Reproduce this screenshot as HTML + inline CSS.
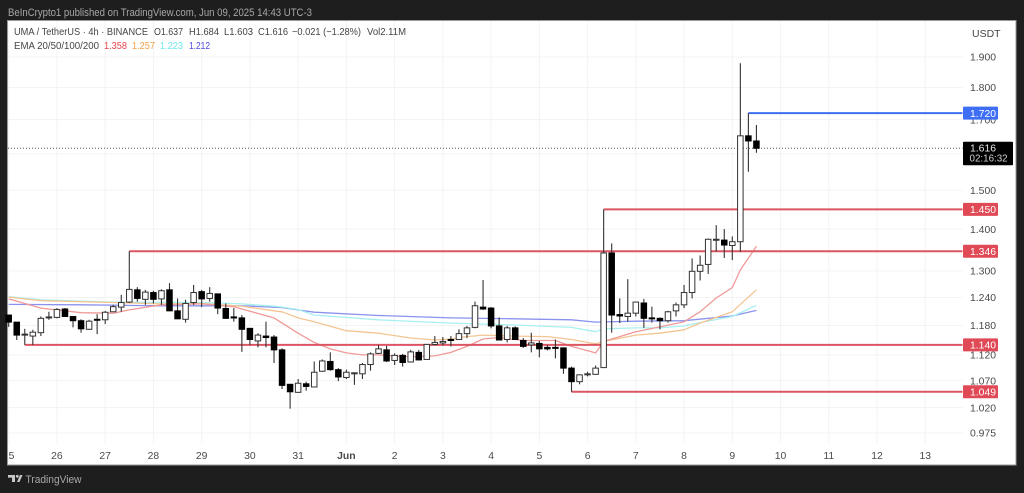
<!DOCTYPE html>
<html lang="en">
<head>
<meta charset="utf-8">
<title>UMA / TetherUS chart</title>
<style>
html,body{margin:0;padding:0;background:#1e1e1e;width:1024px;height:493px;overflow:hidden}
svg{display:block;font-family:"Liberation Sans",sans-serif;filter:blur(0.35px)}
</style>
</head>
<body>
<svg id="chart" width="1024" height="493" viewBox="0 0 1024 493" xmlns="http://www.w3.org/2000/svg">
  <defs><clipPath id="plot-clip"><rect x="8" y="21" width="1008" height="444"/></clipPath></defs>
  <rect x="0" y="0" width="1024" height="493" fill="#1e1e1e"/>
  <text x="8" y="16" font-size="11" fill="#a8a8a8" textLength="304" lengthAdjust="spacingAndGlyphs">BeInCrypto1 published on TradingView.com, Jun 09, 2025 14:43 UTC-3</text>
  <rect x="7.5" y="20.5" width="1008.5" height="444.5" fill="#ffffff" stroke="#9a9a9a" stroke-width="1"/>
  <g id="grid"></g>
  <g id="emas"></g>
  <g id="levels"></g>
  <g id="candles"></g>
  <g id="price-axis"></g>
  <g id="time-axis" clip-path="url(#plot-clip)"></g>
  <g id="level-tags"></g>
  <text x="972" y="37" font-size="10.5" fill="#444">USDT</text>
  <g font-size="10" fill="#444">
    <text x="14" y="35" textLength="134" lengthAdjust="spacingAndGlyphs">UMA / TetherUS · 4h · BINANCE</text>
    <text x="154" y="35" textLength="29" lengthAdjust="spacingAndGlyphs">O1.637</text>
    <text x="189" y="35" textLength="30" lengthAdjust="spacingAndGlyphs">H1.684</text>
    <text x="224" y="35" textLength="29" lengthAdjust="spacingAndGlyphs">L1.603</text>
    <text x="258" y="35" textLength="30" lengthAdjust="spacingAndGlyphs">C1.616</text>
    <text x="292" y="35" textLength="69" lengthAdjust="spacingAndGlyphs">−0.021 (−1.28%)</text>
    <text x="367" y="35" textLength="39" lengthAdjust="spacingAndGlyphs">Vol2.11M</text>
  </g>
  <g font-size="10" fill="#444">
    <text x="14" y="49" textLength="85" lengthAdjust="spacingAndGlyphs">EMA 20/50/100/200</text>
    <text x="104" y="49" fill="#e8434e" textLength="23" lengthAdjust="spacingAndGlyphs">1.358</text>
    <text x="132" y="49" fill="#f2a04c" textLength="23" lengthAdjust="spacingAndGlyphs">1.257</text>
    <text x="160" y="49" fill="#6fe6e6" textLength="23" lengthAdjust="spacingAndGlyphs">1.223</text>
    <text x="189" y="49" fill="#4a4ae0" textLength="21" lengthAdjust="spacingAndGlyphs">1.212</text>
  </g>
  <g>
    <path d="M8 475h7v7h-3v-4.400h-4z M17 482l3-7h2.500l-3 7z" fill="#c8c8c8"/>
    <circle cx="17.300" cy="476.300" r="1.400" fill="#c8c8c8"/>
    <text x="25.500" y="483" font-size="11" fill="#a8a8a8" textLength="56" lengthAdjust="spacingAndGlyphs">TradingView</text>
  </g>
</svg>
<script>
const opens = [1.202,1.187,1.161,1.158,1.165,1.196,1.197,1.215,1.199,1.190,
1.172,1.193,1.192,1.209,1.219,1.230,1.257,1.236,1.251,1.237,
1.257,1.211,1.193,1.229,1.253,1.238,1.248,1.216,1.198,1.196,
1.174,1.148,1.158,1.156,1.130,1.063,1.048,1.064,1.058,1.088,
1.107,1.091,1.076,1.083,1.083,1.101,1.123,1.130,1.109,1.119,
1.106,1.125,1.111,1.141,1.144,1.151,1.151,1.163,1.176,1.219,
1.217,1.179,1.151,1.175,1.149,1.140,1.143,1.135,1.135,1.134,
1.094,1.068,1.081,1.082,1.095,1.342,1.203,1.199,1.206,1.228,
1.196,1.195,1.190,1.211,1.224,1.251,1.299,1.315,1.373,1.373,
1.360,1.369,1.652,1.637];
const highs = [1.202,1.187,1.173,1.171,1.199,1.209,1.217,1.217,1.200,1.193,
1.192,1.204,1.211,1.224,1.246,1.346,1.263,1.257,1.255,1.258,
1.272,1.238,1.235,1.268,1.257,1.263,1.249,1.227,1.217,1.202,
1.174,1.164,1.188,1.160,1.133,1.064,1.073,1.068,1.107,1.111,
1.125,1.094,1.091,1.085,1.104,1.125,1.140,1.138,1.123,1.122,
1.130,1.130,1.141,1.158,1.156,1.158,1.172,1.179,1.231,1.279,
1.219,1.197,1.179,1.178,1.154,1.165,1.148,1.140,1.151,1.135,
1.097,1.081,1.087,1.099,1.450,1.365,1.238,1.281,1.231,1.237,
1.220,1.197,1.211,1.229,1.268,1.329,1.336,1.377,1.410,1.400,
1.382,1.879,1.720,1.684];
const lows = [1.177,1.150,1.140,1.140,1.158,1.192,1.195,1.198,1.176,1.165,
1.171,1.162,1.183,1.209,1.209,1.228,1.231,1.224,1.227,1.224,
1.211,1.194,1.186,1.224,1.219,1.231,1.204,1.194,1.188,1.126,
1.140,1.135,1.135,1.104,1.054,1.018,1.047,1.051,1.057,1.087,
1.089,1.069,1.073,1.062,1.073,1.089,1.122,1.106,1.100,1.097,
1.105,1.109,1.111,1.139,1.139,1.137,1.150,1.154,1.174,1.213,
1.174,1.149,1.145,1.150,1.134,1.125,1.115,1.129,1.113,1.083,
1.049,1.063,1.078,1.081,1.095,1.165,1.185,1.188,1.199,1.175,
1.186,1.172,1.186,1.199,1.217,1.238,1.278,1.293,1.345,1.330,
1.325,1.345,1.550,1.603];
const closes = [1.187,1.160,1.162,1.166,1.195,1.198,1.214,1.199,1.190,1.173,
1.189,1.191,1.208,1.220,1.229,1.258,1.238,1.252,1.236,1.255,
1.211,1.194,1.227,1.251,1.237,1.249,1.217,1.195,1.196,1.172,
1.151,1.160,1.155,1.130,1.061,1.049,1.065,1.059,1.086,1.108,
1.091,1.077,1.086,1.085,1.101,1.122,1.132,1.108,1.119,1.105,
1.126,1.110,1.141,1.145,1.147,1.149,1.163,1.175,1.222,1.215,
1.179,1.150,1.175,1.151,1.137,1.144,1.132,1.132,1.133,1.094,
1.068,1.081,1.083,1.094,1.342,1.202,1.200,1.206,1.230,1.195,
1.194,1.190,1.209,1.224,1.251,1.299,1.313,1.375,1.375,1.361,
1.369,1.652,1.637,1.616];

const ema20Bars = [0,4,9,13,15,19,24,28,33,34,36,38,40,42,44,46,50,53,55,57,59,61,64,68,70,73,74,78,81,84,86,88,90,91,93];
const ema20Values = [1.237,1.217,1.207,1.206,1.213,1.224,1.226,1.220,1.196,1.185,1.164,1.145,1.132,1.124,1.120,1.120,1.116,1.118,1.125,1.137,1.152,1.155,1.149,1.149,1.137,1.124,1.147,1.167,1.177,1.188,1.209,1.239,1.262,1.302,1.358];
const ema50Bars = [0,4,13,19,24,29,33,34,36,38,42,46,50,53,55,57,59,63,67,70,73,74,78,81,84,86,90,93];
const ema50Values = [1.241,1.233,1.229,1.226,1.227,1.221,1.211,1.209,1.196,1.188,1.169,1.164,1.154,1.150,1.152,1.157,1.160,1.158,1.157,1.151,1.142,1.147,1.160,1.164,1.171,1.185,1.209,1.257];
const ema100Bars = [0,4,13,24,29,33,34,36,38,46,55,63,70,73,74,78,81,84,86,90,93];
const ema100Values = [1.242,1.235,1.230,1.229,1.226,1.221,1.219,1.214,1.202,1.192,1.185,1.181,1.176,1.167,1.173,1.175,1.175,1.179,1.186,1.199,1.223];
const ema200Bars = [0,9,19,29,34,36,38,46,55,63,70,73,78,84,90,93];
const ema200Values = [1.225,1.224,1.222,1.222,1.218,1.213,1.208,1.201,1.196,1.194,1.192,1.187,1.189,1.190,1.200,1.212];

const priceTicks = [1.9,1.8,1.7,1.6,1.5,1.4,1.3,1.24,1.18,1.12,1.07,1.02,0.975];
const priceTickLabels = ["1.900","1.800","1.700","1.600","1.500","1.400","1.300","1.240","1.180","1.120","1.070","1.020","0.975"];
const dayLabels = ["25","26","27","28","29","30","31","Jun","2","3","4","5","6","7","8","9","10","11","12","13"];
const barsPerDay = 6;

const levelPrices = [1.720,1.450,1.346,1.140,1.049];
const levelStartBars = [92,74,15,2,70];
const levelLabels = ["1.720","1.450","1.346","1.140","1.049"];
const levelKinds = ["blue","red","red","red","red"];
const lastPrice = 1.616;
const lastPriceLabel = "1.616";
const countdownLabel = "02:16:32";

const NS = "http://www.w3.org/2000/svg";
const PLOT_RIGHT = 962.5;
const xScale = function (bar) { return 8.7 + 8.04 * bar; };
const yScale = function (price) { return 57 + (Math.log(1.9) - Math.log(price)) * 563.6; };
const make = function (parent, tag) {
  const el = document.createElementNS(NS, tag);
  parent.appendChild(el);
  return el;
};

const gridG = document.getElementById("grid");
const priceG = document.getElementById("price-axis");
priceTicks.forEach(function (t, i) {
  const line = make(gridG, "line");
  
  
  line.setAttribute("x1", 8);
  line.setAttribute("x2", PLOT_RIGHT);
  line.setAttribute("y1", yScale(t));
  line.setAttribute("y2", yScale(t));
  line.setAttribute("stroke", "#f3f3f3");
  const label = make(priceG, "text");
  
  
  label.setAttribute("x", 970);
  label.setAttribute("y", yScale(t) + 3.7);
  label.setAttribute("font-size", "10.4");
  label.setAttribute("fill", "#4a4a4a");
  label.textContent = priceTickLabels[i];
});

const timeG = document.getElementById("time-axis");
dayLabels.forEach(function (d, i) {
  const x = xScale(i * barsPerDay);
  const line = make(gridG, "line");
  
  
  line.setAttribute("x1", x);
  line.setAttribute("x2", x);
  line.setAttribute("y1", 21);
  line.setAttribute("y2", 443);
  line.setAttribute("stroke", "#f3f3f3");
  const label = make(timeG, "text");
  
  
  label.setAttribute("x", x);
  label.setAttribute("y", 459);
  label.setAttribute("font-size", "10.4");
  label.setAttribute("text-anchor", "middle");
  label.setAttribute("fill", "#4a4a4a");
  label.setAttribute("font-weight", d === "Jun" ? "bold" : "normal");
  label.textContent = d;
});

const emaG = document.getElementById("emas");
const drawEma = function (bars, values, color) {
  const path = make(emaG, "polyline");
  path.setAttribute("points", bars.map(function (b, i) {
    return xScale(b).toFixed(1) + "," + yScale(values[i]).toFixed(1);
  }).join(" "));
  path.setAttribute("fill", "none");
  path.setAttribute("stroke", color);
  path.setAttribute("stroke-width", "1.3");
  path.setAttribute("stroke-linejoin", "round");
  return path;
};
const ema200Line = drawEma(ema200Bars, ema200Values, "#8a92ee");


const ema100Line = drawEma(ema100Bars, ema100Values, "#a8f0f0");


const ema50Line = drawEma(ema50Bars, ema50Values, "#f4c592");


const ema20Line = drawEma(ema20Bars, ema20Values, "#f09a98");



const levelG = document.getElementById("levels");
const tagG = document.getElementById("level-tags");

const lastLine = make(levelG, "line");


lastLine.setAttribute("x1", 8);
lastLine.setAttribute("x2", PLOT_RIGHT);
lastLine.setAttribute("y1", yScale(lastPrice));
lastLine.setAttribute("y2", yScale(lastPrice));
lastLine.setAttribute("stroke", "#555");
lastLine.setAttribute("stroke-dasharray", "1 2");

levelPrices.forEach(function (p, i) {
  const color = levelKinds[i] === "blue" ? "#3f6ff0" : "#dc5662";
  const fill = levelKinds[i] === "blue" ? "#3d6ef5" : "#e04a56";
  const y = yScale(p);
  const line = make(levelG, "line");
  
  
  line.setAttribute("x1", xScale(levelStartBars[i]));
  line.setAttribute("x2", PLOT_RIGHT);
  line.setAttribute("y1", y);
  line.setAttribute("y2", y);
  line.setAttribute("stroke", color);
  line.setAttribute("stroke-width", "2");
  const tag = make(tagG, "rect");
  
  
  tag.setAttribute("x", 963);
  tag.setAttribute("y", y - 6.5);
  tag.setAttribute("width", 35);
  tag.setAttribute("height", 13);
  tag.setAttribute("rx", 1);
  tag.setAttribute("fill", fill);
  const text = make(tagG, "text");
  
  
  text.setAttribute("x", 970);
  text.setAttribute("y", y + 3.7);
  text.setAttribute("font-size", "10.4");
  text.setAttribute("fill", "#ffffff");
  text.textContent = levelLabels[i];
});

const candleG = document.getElementById("candles");
opens.forEach(function (o, i) {
  const c = closes[i];
  const x = xScale(i);
  const up = c >= o;
  const top = yScale(Math.max(o, c));
  const bottom = yScale(Math.min(o, c));
  const wick = make(candleG, "line");
  
  
  wick.setAttribute("x1", x);
  wick.setAttribute("x2", x);
  wick.setAttribute("y1", yScale(highs[i]));
  wick.setAttribute("y2", yScale(lows[i]));
  wick.setAttribute("stroke", "#333333");
  wick.setAttribute("stroke-width", "1.1");
  const body = make(candleG, "rect");
  
  
  body.setAttribute("x", x - 2.75);
  body.setAttribute("y", top);
  body.setAttribute("width", 5.5);
  body.setAttribute("height", Math.max(bottom - top, 1));
  body.setAttribute("fill", up ? "#ffffff" : "#000000");
  body.setAttribute("stroke", up ? "#333333" : "#000000");
  body.setAttribute("stroke-width", "1");
});

const lastY = yScale(lastPrice);
const lastTag = make(tagG, "rect");


lastTag.setAttribute("x", 963);
lastTag.setAttribute("y", lastY - 6.5);
lastTag.setAttribute("width", 50);
lastTag.setAttribute("height", 23.5);
lastTag.setAttribute("rx", 1);
lastTag.setAttribute("fill", "#000000");
const lastText = make(tagG, "text");


lastText.setAttribute("x", 970);
lastText.setAttribute("y", lastY + 3.2);
lastText.setAttribute("font-size", "10.4");
lastText.setAttribute("fill", "#e8e8e8");
lastText.textContent = lastPriceLabel;
const countdown = make(tagG, "text");


countdown.setAttribute("x", 969.5);
countdown.setAttribute("y", lastY + 13.4);
countdown.setAttribute("font-size", "9.8");
countdown.setAttribute("fill", "#d0d0d0");
countdown.textContent = countdownLabel;
</script>
</body>
</html>
